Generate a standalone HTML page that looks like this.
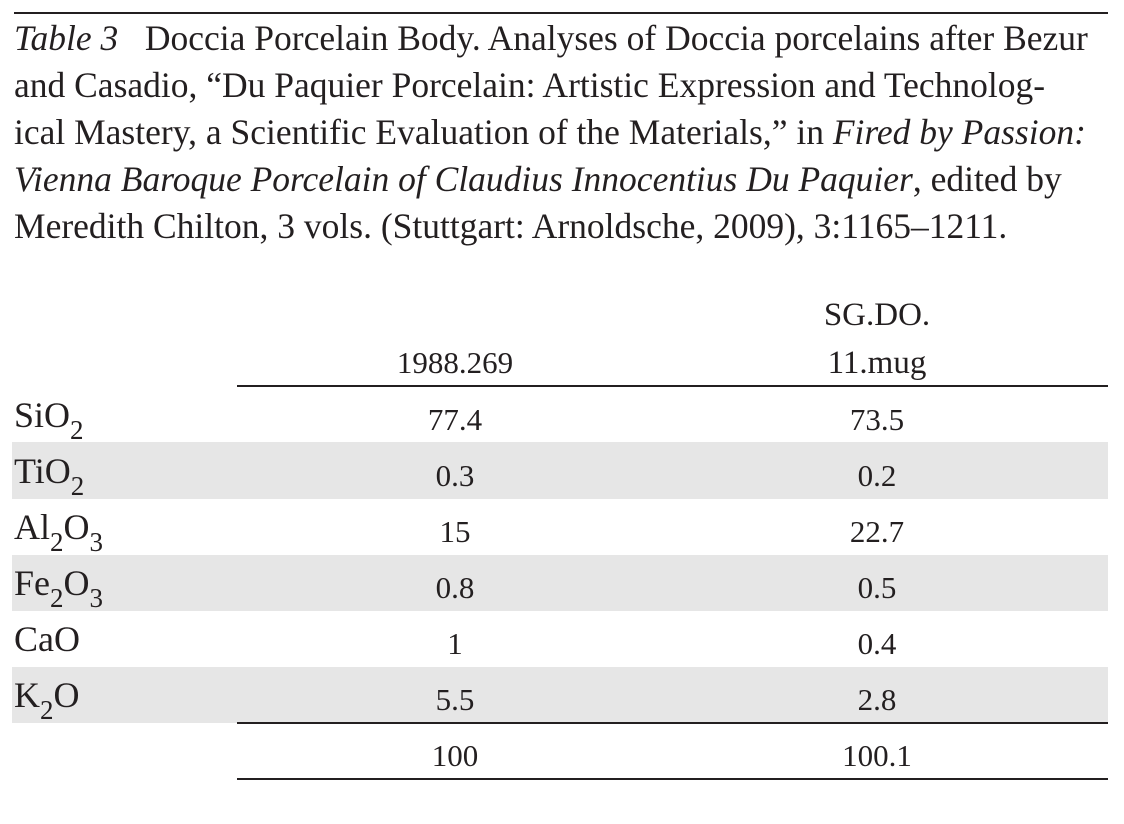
<!DOCTYPE html>
<html><head><meta charset="utf-8"><style>
body{margin:0;width:1124px;height:824px;background:#fff;position:relative;font-family:"Liberation Serif",serif;color:#231f20;overflow:hidden}
.a{position:absolute;white-space:nowrap}
.cap{left:14px;font-size:35.5px;line-height:47px}
.rule{position:absolute;background:#231f20}
.band{position:absolute;left:12px;width:1096px;background:#e6e6e6}
.c1,.c2{position:absolute;font-size:31px;text-align:center;width:300px}
.c1{left:305px}.c2{left:727px}
.lab{position:absolute;left:14px;font-size:36px}
sub{font-size:27px;vertical-align:-12px;line-height:0}
</style></head><body>
<div class="rule" style="left:14px;top:12px;width:1094px;height:2px"></div>
<div class="a cap" style="top:15px"><i>Table 3</i>&nbsp;&nbsp; Doccia Porcelain Body. Analyses of Doccia porcelains after Bezur</div>
<div class="a cap" style="top:62px">and Casadio, “Du Paquier Porcelain: Artistic Expression and Technolog-</div>
<div class="a cap" style="top:109px">ical Mastery, a Scientific Evaluation of the Materials,” in <i>Fired by Passion:</i></div>
<div class="a cap" style="top:156px"><i>Vienna Baroque Porcelain of Claudius Innocentius Du Paquier</i>, edited by</div>
<div class="a cap" style="top:203px">Meredith Chilton, 3 vols. (Stuttgart: Arnoldsche, 2009), 3:1165–1211.</div>

<div class="band" style="top:442px;height:57px"></div>
<div class="band" style="top:555px;height:56px"></div>
<div class="band" style="top:667px;height:56px"></div>

<div class="c2" style="top:297px;font-size:33px">SG.DO.</div>
<div class="c1" style="top:345px">1988.269</div>
<div class="c2" style="top:345px;font-size:33px">11.mug</div>
<div class="rule" style="left:237px;top:385px;width:871px;height:2px"></div>

<div class="lab" style="top:394px">SiO<sub>2</sub></div>
<div class="lab" style="top:450px">TiO<sub>2</sub></div>
<div class="lab" style="top:506px">Al<sub>2</sub>O<sub>3</sub></div>
<div class="lab" style="top:562px">Fe<sub>2</sub>O<sub>3</sub></div>
<div class="lab" style="top:618px">CaO</div>
<div class="lab" style="top:674px">K<sub>2</sub>O</div>

<div class="c1" style="top:402px">77.4</div><div class="c2" style="top:402px">73.5</div>
<div class="c1" style="top:458px">0.3</div><div class="c2" style="top:458px">0.2</div>
<div class="c1" style="top:514px">15</div><div class="c2" style="top:514px">22.7</div>
<div class="c1" style="top:570px">0.8</div><div class="c2" style="top:570px">0.5</div>
<div class="c1" style="top:626px">1</div><div class="c2" style="top:626px">0.4</div>
<div class="c1" style="top:682px">5.5</div><div class="c2" style="top:682px">2.8</div>
<div class="rule" style="left:237px;top:722px;width:871px;height:2px"></div>
<div class="c1" style="top:738px">100</div><div class="c2" style="top:738px">100.1</div>
<div class="rule" style="left:237px;top:778px;width:871px;height:2px"></div>
</body></html>
